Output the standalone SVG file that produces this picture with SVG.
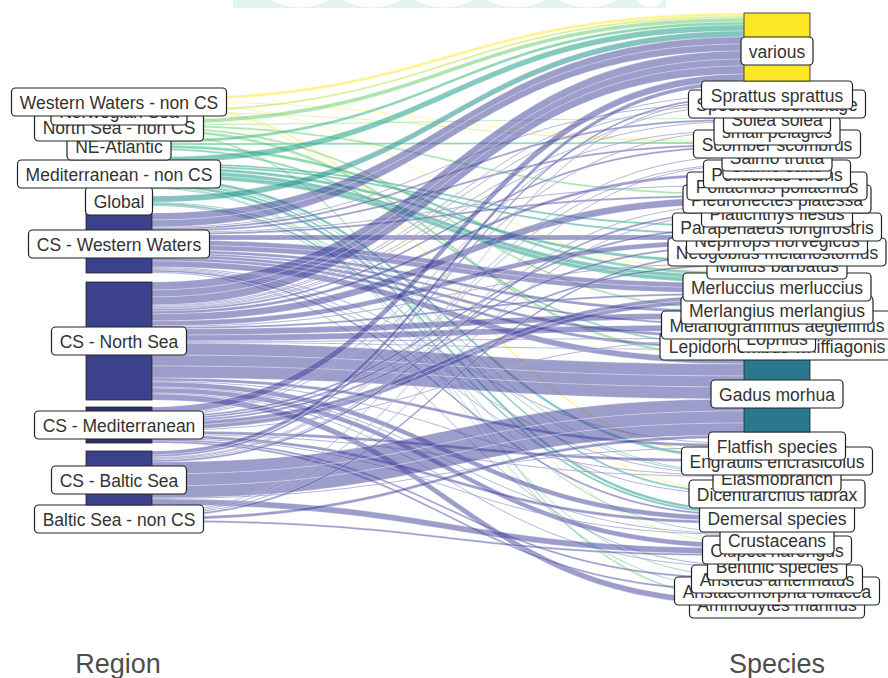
<svg xmlns="http://www.w3.org/2000/svg" width="888" height="678" viewBox="0 0 888 678">
<style>
.fl path{stroke:#fff;stroke-width:.35;stroke-opacity:.8}
.fa{fill:#fde725;fill-opacity:.5}
.fb{fill:#b8de29;fill-opacity:.5}
.fc{fill:#5ec962;fill-opacity:.5}
.fd{fill:#35b779;fill-opacity:.55}
.fe{fill:#1fa187;fill-opacity:.55}
.ff{fill:#21918c;fill-opacity:.55}
.fp{fill:#3b3b9a;fill-opacity:.5}
.bar{stroke:#222;stroke-width:.8}
.cs{fill:#3c418d}
.box{fill:#fff;stroke:#222;stroke-width:1.2}
.lb text{font-family:"Liberation Sans",Arial,sans-serif;font-size:17.5px;fill:#333;text-anchor:middle}
.ax{font-family:"Liberation Sans",Arial,sans-serif;font-size:27px;fill:#4d4d4d;text-anchor:middle}
</style>
<g id="watermark">
<rect x="233" y="0" width="433" height="8" fill="#e3f5f3"/>
<ellipse cx="300" cy="-4" rx="30" ry="11" fill="#fff"/>
<ellipse cx="372" cy="-4" rx="30" ry="11" fill="#fff"/>
<ellipse cx="444" cy="-4" rx="30" ry="11" fill="#fff"/>
<ellipse cx="516" cy="-4" rx="30" ry="11" fill="#fff"/>
<ellipse cx="588" cy="-4" rx="30" ry="11" fill="#fff"/>
<ellipse cx="650" cy="-4" rx="14" ry="11" fill="#fff"/>
</g>
<g id="connectors" class="fl">
<g class="fa">
<path d="M152 98C448 98 448 13 744 13L744 16C448 16 448 101 152 101Z"/>
<path d="M152 101C448 101 448 140 744 140L744 141C448 141 448 102 152 102Z"/>
<path d="M152 102C448 102 448 271 744 271L744 272C448 272 448 103 152 103Z"/>
<path d="M152 103C448 103 448 454 744 454L744 456C448 456 448 105 152 105Z"/>
<path d="M152 105C448 105 448 491 744 491L744 492C448 492 448 106 152 106Z"/>
</g>
<g class="fb">
<path d="M152 110C448 110 448 16 744 16L744 18C448 18 448 112 152 112Z"/>
<path d="M152 112C448 112 448 141 744 141L744 142C448 142 448 113 152 113Z"/>
<path d="M152 113C448 113 448 542 744 542L744 543C448 543 448 114 152 114Z"/>
</g>
<g class="fc">
<path d="M152 120C448 120 448 18 744 18L744 22C448 22 448 124 152 124Z"/>
<path d="M152 124C448 124 448 118 744 118L744 119C448 119 448 125 152 125Z"/>
<path d="M152 125C448 125 448 193 744 193L744 195C448 195 448 127 152 127Z"/>
<path d="M152 127C448 127 448 308 744 308L744 310C448 310 448 129 152 129Z"/>
<path d="M152 129C448 129 448 355 744 355L744 358C448 358 448 132 152 132Z"/>
<path d="M152 132C448 132 448 597 744 597L744 599C448 599 448 134 152 134Z"/>
</g>
<g class="fd">
<path d="M152 140C448 140 448 22 744 22L744 25C448 25 448 143 152 143Z"/>
<path d="M152 143C448 143 448 142 744 142L744 144C448 144 448 145 152 145Z"/>
<path d="M152 145C448 145 448 272 744 272L744 275C448 275 448 148 152 148Z"/>
<path d="M152 148C448 148 448 344 744 344L744 346C448 346 448 150 152 150Z"/>
</g>
<g class="fe">
<path d="M152 157C448 157 448 25 744 25L744 31C448 31 448 163 152 163Z"/>
<path d="M152 163C448 163 448 225 744 225L744 227C448 227 448 165 152 165Z"/>
<path d="M152 165C448 165 448 233 744 233L744 235C448 235 448 167 152 167Z"/>
<path d="M152 167C448 167 448 260 744 260L744 263C448 263 448 170 152 170Z"/>
<path d="M152 170C448 170 448 275 744 275L744 279C448 279 448 174 152 174Z"/>
<path d="M152 174C448 174 448 279 744 279L744 283C448 283 448 178 152 178Z"/>
<path d="M152 178C448 178 448 456 744 456L744 459C448 459 448 181 152 181Z"/>
<path d="M152 181C448 181 448 472 744 472L744 473C448 473 448 182 152 182Z"/>
<path d="M152 182C448 182 448 492 744 492L744 494C448 494 448 184 152 184Z"/>
<path d="M152 184C448 184 448 509 744 509L744 512C448 512 448 187 152 187Z"/>
<path d="M152 187C448 187 448 576 744 576L744 577C448 577 448 188 152 188Z"/>
<path d="M152 188C448 188 448 588 744 588L744 589C448 589 448 189 152 189Z"/>
</g>
<g class="ff">
<path d="M152 196C448 196 448 31 744 31L744 37C448 37 448 202 152 202Z"/>
<path d="M152 202C448 202 448 473 744 473L744 474C448 474 448 203 152 203Z"/>
<path d="M152 203C448 203 448 512 744 512L744 514C448 514 448 205 152 205Z"/>
<path d="M152 205C448 205 448 532 744 532L744 533C448 533 448 206 152 206Z"/>
</g>
<g class="fp">
<path d="M152 213C448 213 448 37 744 37L744 44C448 44 448 220 152 220Z"/>
<path d="M152 220C448 220 448 44 744 44L744 51C448 51 448 227 152 227Z"/>
<path d="M152 227C448 227 448 103 744 103L744 104C448 104 448 228 152 228Z"/>
<path d="M152 228C448 228 448 119 744 119L744 121C448 121 448 230 152 230Z"/>
<path d="M152 230C448 230 448 144 744 144L744 146C448 146 448 232 152 232Z"/>
<path d="M152 232C448 232 448 185 744 185L744 186C448 186 448 233 152 233Z"/>
<path d="M152 233C448 233 448 195 744 195L744 197C448 197 448 235 152 235Z"/>
<path d="M152 235C448 235 448 235 744 235L744 240C448 240 448 240 152 240Z"/>
<path d="M152 240C448 240 448 283 744 283L744 288C448 288 448 245 152 245Z"/>
<path d="M152 245C448 245 448 288 744 288L744 293C448 293 448 250 152 250Z"/>
<path d="M152 250C448 250 448 310 744 310L744 313C448 313 448 253 152 253Z"/>
<path d="M152 253C448 253 448 323 744 323L744 325C448 325 448 255 152 255Z"/>
<path d="M152 255C448 255 448 335 744 335L744 338C448 338 448 258 152 258Z"/>
<path d="M152 258C448 258 448 346 744 346L744 349C448 349 448 261 152 261Z"/>
<path d="M152 261C448 261 448 358 744 358L744 364C448 364 448 267 152 267Z"/>
<path d="M152 267C448 267 448 443 744 443L744 444C448 444 448 268 152 268Z"/>
<path d="M152 268C448 268 448 474 744 474L744 475C448 475 448 269 152 269Z"/>
<path d="M152 269C448 269 448 494 744 494L744 495C448 495 448 270 152 270Z"/>
<path d="M152 270C448 270 448 514 744 514L744 516C448 516 448 272 152 272Z"/>
<path d="M152 272C448 272 448 565 744 565L744 566C448 566 448 273 152 273Z"/>
<path d="M152 282C448 282 448 51 744 51L744 59C448 59 448 290 152 290Z"/>
<path d="M152 290C448 290 448 59 744 59L744 66C448 66 448 297 152 297Z"/>
<path d="M152 297C448 297 448 66 744 66L744 74C448 74 448 305 152 305Z"/>
<path d="M152 305C448 305 448 95 744 95L744 96C448 96 448 306 152 306Z"/>
<path d="M152 306C448 306 448 104 744 104L744 105C448 105 448 307 152 307Z"/>
<path d="M152 307C448 307 448 121 744 121L744 122C448 122 448 308 152 308Z"/>
<path d="M152 308C448 308 448 130 744 130L744 131C448 131 448 309 152 309Z"/>
<path d="M152 309C448 309 448 146 744 146L744 148C448 148 448 311 152 311Z"/>
<path d="M152 311C448 311 448 173 744 173L744 176C448 176 448 314 152 314Z"/>
<path d="M152 314C448 314 448 197 744 197L744 204C448 204 448 321 152 321Z"/>
<path d="M152 321C448 321 448 240 744 240L744 245C448 245 448 326 152 326Z"/>
<path d="M152 326C448 326 448 263 744 263L744 264C448 264 448 327 152 327Z"/>
<path d="M152 327C448 327 448 293 744 293L744 295C448 295 448 329 152 329Z"/>
<path d="M152 329C448 329 448 313 744 313L744 319C448 319 448 335 152 335Z"/>
<path d="M152 335C448 335 448 325 744 325L744 331C448 331 448 341 152 341Z"/>
<path d="M152 341C448 341 448 338 744 338L744 339C448 339 448 342 152 342Z"/>
<path d="M152 342C448 342 448 349 744 349L744 350C448 350 448 343 152 343Z"/>
<path d="M152 343C448 343 448 364 744 364L744 376C448 376 448 355 152 355Z"/>
<path d="M152 355C448 355 448 376 744 376L744 387C448 387 448 366 152 366Z"/>
<path d="M152 366C448 366 448 387 744 387L744 399C448 399 448 378 152 378Z"/>
<path d="M152 378C448 378 448 444 744 444L744 447C448 447 448 381 152 381Z"/>
<path d="M152 381C448 381 448 475 744 475L744 476C448 476 448 382 152 382Z"/>
<path d="M152 382C448 382 448 516 744 516L744 521C448 521 448 387 152 387Z"/>
<path d="M152 387C448 387 448 533 744 533L744 534C448 534 448 388 152 388Z"/>
<path d="M152 388C448 388 448 543 744 543L744 548C448 548 448 393 152 393Z"/>
<path d="M152 393C448 393 448 566 744 566L744 567C448 567 448 394 152 394Z"/>
<path d="M152 394C448 394 448 599 744 599L744 605C448 605 448 400 152 400Z"/>
<path d="M152 407C448 407 448 74 744 74L744 81C448 81 448 414 152 414Z"/>
<path d="M152 414C448 414 448 105 744 105L744 106C448 106 448 415 152 415Z"/>
<path d="M152 415C448 415 448 131 744 131L744 132C448 132 448 416 152 416Z"/>
<path d="M152 416C448 416 448 227 744 227L744 229C448 229 448 418 152 418Z"/>
<path d="M152 418C448 418 448 245 744 245L744 247C448 247 448 420 152 420Z"/>
<path d="M152 420C448 420 448 264 744 264L744 266C448 266 448 422 152 422Z"/>
<path d="M152 422C448 422 448 295 744 295L744 299C448 299 448 426 152 426Z"/>
<path d="M152 426C448 426 448 299 744 299L744 303C448 303 448 430 152 430Z"/>
<path d="M152 430C448 430 448 339 744 339L744 340C448 340 448 431 152 431Z"/>
<path d="M152 431C448 431 448 459 744 459L744 462C448 462 448 434 152 434Z"/>
<path d="M152 434C448 434 448 476 744 476L744 477C448 477 448 435 152 435Z"/>
<path d="M152 435C448 435 448 521 744 521L744 524C448 524 448 438 152 438Z"/>
<path d="M152 438C448 438 448 534 744 534L744 535C448 535 448 439 152 439Z"/>
<path d="M152 439C448 439 448 577 744 577L744 579C448 579 448 441 152 441Z"/>
<path d="M152 441C448 441 448 589 744 589L744 591C448 591 448 443 152 443Z"/>
<path d="M152 451C448 451 448 81 744 81L744 85C448 85 448 455 152 455Z"/>
<path d="M152 455C448 455 448 96 744 96L744 98C448 98 448 457 152 457Z"/>
<path d="M152 457C448 457 448 156 744 156L744 157C448 157 448 458 152 458Z"/>
<path d="M152 458C448 458 448 164 744 164L744 165C448 165 448 459 152 459Z"/>
<path d="M152 459C448 459 448 204 744 204L744 205C448 205 448 460 152 460Z"/>
<path d="M152 460C448 460 448 211 744 211L744 213C448 213 448 462 152 462Z"/>
<path d="M152 462C448 462 448 399 744 399L744 411C448 411 448 474 152 474Z"/>
<path d="M152 474C448 474 448 411 744 411L744 423C448 423 448 486 152 486Z"/>
<path d="M152 486C448 486 448 423 744 423L744 435C448 435 448 498 152 498Z"/>
<path d="M152 498C448 498 448 447 744 447L744 448C448 448 448 499 152 499Z"/>
<path d="M152 499C448 499 448 548 744 548L744 554C448 554 448 505 152 505Z"/>
<path d="M152 512C448 512 448 98 744 98L744 99C448 99 448 513 152 513Z"/>
<path d="M152 513C448 513 448 165 744 165L744 166C448 166 448 514 152 514Z"/>
<path d="M152 514C448 514 448 213 744 213L744 214C448 214 448 515 152 515Z"/>
<path d="M152 515C448 515 448 252 744 252L744 254C448 254 448 517 152 517Z"/>
<path d="M152 517C448 517 448 435 744 435L744 438C448 438 448 520 152 520Z"/>
<path d="M152 520C448 520 448 554 744 554L744 556C448 556 448 522 152 522Z"/>
</g>
</g>
<g id="region-nodes">
<g id="n-baltic-noncs" class="lb"><rect class="bar cs" x="86" y="512" width="66" height="10"/><rect class="box" x="34.5" y="505" width="169" height="28" rx="4"/><text x="119" y="525.5">Baltic Sea - non CS</text></g>
<g id="n-cs-baltic" class="lb"><rect class="bar cs" x="86" y="451" width="66" height="54"/><rect class="box" x="51.5" y="466" width="135" height="28" rx="4"/><text x="119" y="486.5">CS - Baltic Sea</text></g>
<g id="n-cs-med" class="lb"><rect class="bar" fill="#2f3070" x="86" y="407" width="66" height="36"/><rect class="box" x="34.5" y="411" width="169" height="28" rx="4"/><text x="119" y="431.5">CS - Mediterranean</text></g>
<g id="n-cs-northsea" class="lb"><rect class="bar cs" x="86" y="282" width="66" height="118"/><rect class="box" x="51.5" y="327" width="135" height="28" rx="4"/><text x="119" y="347.5">CS - North Sea</text></g>
<g id="n-cs-ww" class="lb"><rect class="bar cs" x="86" y="213" width="66" height="60"/><rect class="box" x="28.5" y="230" width="181" height="28" rx="4"/><text x="119" y="250.5">CS - Western Waters</text></g>
<g id="n-global" class="lb"><rect class="bar" fill="#21918c" x="86" y="196" width="66" height="10"/><rect class="box" x="85.5" y="187" width="67" height="28" rx="4"/><text x="119" y="207.5">Global</text></g>
<g id="n-med-noncs" class="lb"><rect class="bar" fill="#1fa187" x="86" y="160" width="66" height="27"/><rect class="box" x="17.5" y="160" width="203" height="28" rx="4"/><text x="119" y="180.5">Mediterranean - non CS</text></g>
<g id="n-ne-atlantic" class="lb"><rect class="bar" fill="#35b779" x="86" y="140" width="66" height="10"/><rect class="box" x="67" y="132" width="104" height="28" rx="4"/><text x="119" y="152.5">NE-Atlantic</text></g>
<g id="n-ns-noncs" class="lb"><rect class="bar" fill="#5ec962" x="86" y="120" width="66" height="14"/><rect class="box" x="34.5" y="113" width="169" height="28" rx="4"/><text x="119" y="133.5">North Sea - non CS</text></g>
<g id="n-norwegian" class="lb"><rect class="bar" fill="#b8de29" x="86" y="110" width="66" height="4"/><rect class="box" x="51" y="97" width="136" height="28" rx="4"/><text x="119" y="117.5">Norwegian Sea</text></g>
<g id="n-ww-noncs" class="lb"><rect class="bar" fill="#fde725" x="86" y="98" width="66" height="8"/><rect class="box" x="11.5" y="88" width="215" height="28" rx="4"/><text x="119" y="108.5">Western Waters - non CS</text></g>
</g>
<g id="species-nodes">
<g id="s-ammodytes" class="lb"><rect class="bar cs" x="744" y="597" width="66" height="8"/><rect class="box" x="689.5" y="590" width="175" height="28" rx="4"/><text x="777" y="610.5">Ammodytes marinus</text></g>
<g id="s-aristaeomorpha" class="lb"><rect class="bar cs" x="744" y="588" width="66" height="3"/><rect class="box" x="674.5" y="577" width="205" height="28" rx="4"/><text x="777" y="597.5">Aristaeomorpha foliacea</text></g>
<g id="s-aristeus" class="lb"><rect class="bar cs" x="744" y="576" width="66" height="3"/><rect class="box" x="691.5" y="565" width="171" height="28" rx="4"/><text x="777" y="585.5">Aristeus antennatus</text></g>
<g id="s-benthic" class="lb"><rect class="bar cs" x="744" y="565" width="66" height="2"/><rect class="box" x="707.5" y="552" width="139" height="28" rx="4"/><text x="777" y="572.5">Benthic species</text></g>
<g id="s-clupea" class="lb"><rect class="bar cs" x="744" y="542" width="66" height="14"/><rect class="box" x="702.5" y="536" width="149" height="28" rx="4"/><text x="777" y="556.5">Clupea harengus</text></g>
<g id="s-crustaceans" class="lb"><rect class="bar cs" x="744" y="532" width="66" height="3"/><rect class="box" x="720" y="526" width="114" height="28" rx="4"/><text x="777" y="546.5">Crustaceans</text></g>
<g id="s-demersal" class="lb"><rect class="bar cs" x="744" y="509" width="66" height="15"/><rect class="box" x="699.5" y="504" width="155" height="28" rx="4"/><text x="777" y="524.5">Demersal species</text></g>
<g id="s-dicentrarchus" class="lb"><rect class="bar cs" x="744" y="491" width="66" height="4"/><rect class="box" x="689" y="480" width="176" height="28" rx="4"/><text x="777" y="500.5">Dicentrarchus labrax</text></g>
<g id="s-elasmobranch" class="lb"><rect class="bar cs" x="744" y="472" width="66" height="5"/><rect class="box" x="713" y="464" width="128" height="28" rx="4"/><text x="777" y="484.5">Elasmobranch</text></g>
<g id="s-engraulis" class="lb"><rect class="bar cs" x="744" y="454" width="66" height="8"/><rect class="box" x="681.5" y="447" width="191" height="28" rx="4"/><text x="777" y="467.5">Engraulis encrasicolus</text></g>
<g id="s-flatfish" class="lb"><rect class="bar cs" x="744" y="443" width="66" height="5"/><rect class="box" x="708.5" y="432" width="137" height="28" rx="4"/><text x="777" y="452.5">Flatfish species</text></g>
<g id="s-gadus" class="lb"><rect class="bar" fill="#2a788e" x="744" y="355" width="66" height="77"/><rect class="box" x="711" y="380" width="132" height="28" rx="4"/><text x="777" y="400.5">Gadus morhua</text></g>
<g id="s-lepidorhombus" class="lb"><rect class="bar cs" x="744" y="344" width="66" height="6"/><rect class="box" x="660" y="332" width="234" height="28" rx="4"/><text x="777" y="352.5">Lepidorhombus whiffiagonis</text></g>
<g id="s-lophius" class="lb"><rect class="bar cs" x="744" y="335" width="66" height="5"/><rect class="box" x="738.5" y="324" width="77" height="28" rx="4"/><text x="777" y="344.5">Lophius</text></g>
<g id="s-melanogrammus" class="lb"><rect class="bar cs" x="744" y="323" width="66" height="8"/><rect class="box" x="661.5" y="311" width="231" height="28" rx="4"/><text x="777" y="331.5">Melanogrammus aeglefinus</text></g>
<g id="s-merlangius" class="lb"><rect class="bar cs" x="744" y="308" width="66" height="11"/><rect class="box" x="681" y="296" width="192" height="28" rx="4"/><text x="777" y="316.5">Merlangius merlangius</text></g>
<g id="s-merluccius" class="lb"><rect class="bar cs" x="744" y="271" width="66" height="25"/><rect class="box" x="683" y="273" width="188" height="28" rx="4"/><text x="777" y="293.5">Merluccius merluccius</text></g>
<g id="s-mullus" class="lb"><rect class="bar cs" x="744" y="260" width="66" height="6"/><rect class="box" x="707" y="251" width="140" height="28" rx="4"/><text x="777" y="271.5">Mullus barbatus</text></g>
<g id="s-neogobius" class="lb"><rect class="bar cs" x="744" y="252" width="66" height="2"/><rect class="box" x="668" y="238" width="218" height="28" rx="4"/><text x="777" y="258.5">Neogobius melanostomus</text></g>
<g id="s-nephrops" class="lb"><rect class="bar cs" x="744" y="233" width="66" height="14"/><rect class="box" x="686.5" y="226" width="181" height="28" rx="4"/><text x="777" y="246.5">Nephrops norvegicus</text></g>
<g id="s-parapenaeus" class="lb"><rect class="bar cs" x="744" y="225" width="66" height="4"/><rect class="box" x="672.5" y="213" width="209" height="28" rx="4"/><text x="777" y="233.5">Parapenaeus longirostris</text></g>
<g id="s-platichthys" class="lb"><rect class="bar cs" x="744" y="211" width="66" height="3"/><rect class="box" x="701.5" y="199" width="151" height="28" rx="4"/><text x="777" y="219.5">Platichthys flesus</text></g>
<g id="s-pleuronectes" class="lb"><rect class="bar cs" x="744" y="193" width="66" height="12"/><rect class="box" x="683" y="185" width="188" height="28" rx="4"/><text x="777" y="205.5">Pleuronectes platessa</text></g>
<g id="s-pollachius-pollachius" class="lb"><rect class="bar cs" x="744" y="185" width="66" height="1"/><rect class="box" x="687" y="172" width="180" height="28" rx="4"/><text x="777" y="192.5">Pollachius pollachius</text></g>
<g id="s-pollachius-virens" class="lb"><rect class="bar cs" x="744" y="173" width="66" height="3"/><rect class="box" x="703.5" y="160" width="147" height="28" rx="4"/><text x="777" y="180.5">Pollachius virens</text></g>
<g id="s-salmo-salar" class="lb"><rect class="bar cs" x="744" y="164" width="66" height="2"/><rect class="box" x="723" y="151" width="108" height="28" rx="4"/><text x="777" y="171.5">Salmo salar</text></g>
<g id="s-salmo-trutta" class="lb"><rect class="bar cs" x="744" y="156" width="66" height="1"/><rect class="box" x="722" y="143" width="110" height="28" rx="4"/><text x="777" y="163.5">Salmo trutta</text></g>
<g id="s-scomber" class="lb"><rect class="bar cs" x="744" y="140" width="66" height="8"/><rect class="box" x="693.5" y="130" width="167" height="28" rx="4"/><text x="777" y="150.5">Scomber scombrus</text></g>
<g id="s-small-pelagics" class="lb"><rect class="bar cs" x="744" y="130" width="66" height="2"/><rect class="box" x="714" y="117" width="126" height="28" rx="4"/><text x="777" y="137.5">small pelagics</text></g>
<g id="s-solea" class="lb"><rect class="bar cs" x="744" y="118" width="66" height="4"/><rect class="box" x="723.5" y="105" width="107" height="28" rx="4"/><text x="777" y="125.5">Solea solea</text></g>
<g id="s-species-assemblage" class="lb"><rect class="bar cs" x="744" y="103" width="66" height="3"/><rect class="box" x="688.5" y="90" width="177" height="28" rx="4"/><text x="777" y="110.5">Species assemblage</text></g>
<g id="s-sprattus" class="lb"><rect class="bar cs" x="744" y="95" width="66" height="4"/><rect class="box" x="701.5" y="81" width="151" height="28" rx="4"/><text x="777" y="101.5">Sprattus sprattus</text></g>
<g id="s-various" class="lb"><rect class="bar" fill="#fde725" x="744" y="13" width="66" height="68"/><rect class="box" x="741" y="37" width="72" height="28" rx="4"/><text x="777" y="57.5">various</text></g>
</g>
<g id="axis-titles">
<text class="ax" x="118" y="673">Region</text>
<text class="ax" x="777" y="673">Species</text>
</g>
</svg>
